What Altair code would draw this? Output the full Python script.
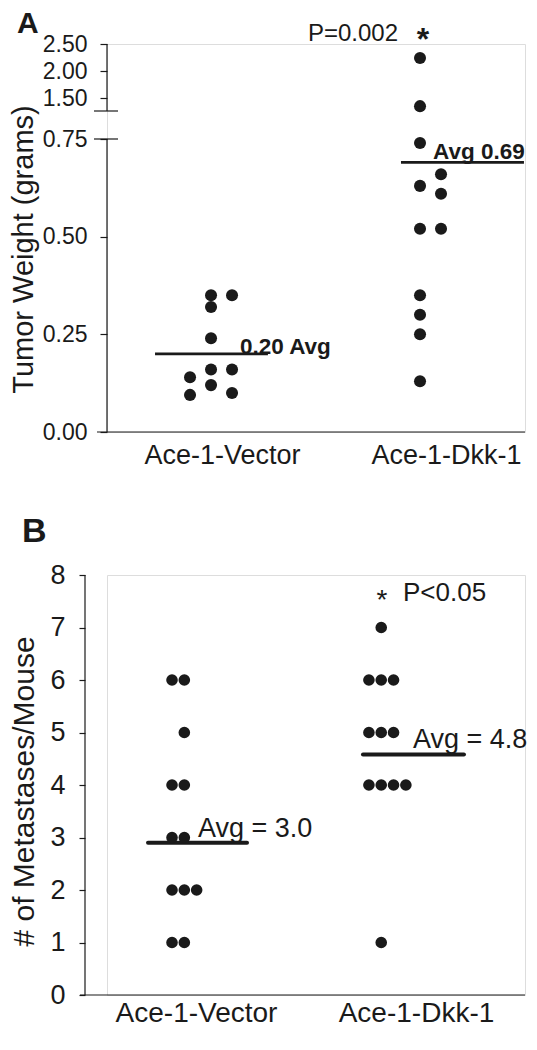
import altair as alt
import pandas as pd

# ---------------- data ----------------
groups = ["Ace-1-Vector", "Ace-1-Dkk-1"]

# Panel A: tumor weight (grams); slot = column of the dot inside its group
a_vector_vals = [0.35, 0.35, 0.32, 0.24, 0.16, 0.16, 0.14, 0.12, 0.095, 0.10]
a_vector_slot = [0, 1, 0, 0, 0, 1, -1, 0, -1, 1]
a_dkk_vals = [2.24, 1.35, 0.74, 0.66, 0.63, 0.61, 0.52, 0.52, 0.35, 0.30, 0.25, 0.13]
a_dkk_slot = [0, 0, 0, 1, 0, 1, 0, 1, 0, 0, 0, 0]
a_avg = [0.20, 0.69]
a_avg_text = ["0.20 Avg", "Avg 0.69"]
a_ticks = [0, 0.25, 0.5, 0.75, 1.5, 2.0, 2.5]
a_segments = [(0, 0.75), (1.26, 2.5)]  # broken axis pieces
a_pvalue = "P=0.002"

# Panel B: metastases per mouse
b_vector_vals = [6, 6, 5, 4, 4, 3, 3, 2, 2, 2, 1, 1]
b_vector_slot = [0, 1, 1, 0, 1, 0, 1, 0, 1, 2, 0, 1]
b_dkk_vals = [7, 6, 6, 6, 5, 5, 5, 4, 4, 4, 4, 1]
b_dkk_slot = [1, 0, 1, 2, 0, 1, 2, 0, 1, 2, 3, 1]
b_avg = [2.9, 4.58]
b_avg_text = ["Avg = 3.0", "Avg = 4.8"]
b_ticks = [0, 1, 2, 3, 4, 5, 6, 7, 8]
b_pvalue = "P<0.05"

# ---------------- style / layout ----------------
INK = "#1a1a1a"
FONT = "Liberation Sans"
W = 418
A_H = 388
B_H = 420
label_expr = f"datum.value == 1 ? '{groups[0]}' : '{groups[1]}'"

A_STYLE = dict(xdom=[0.4866, 0.4866 + W / 224], base=[-0.049, -0.116], step=0.09375,
               line=[(-0.299, 0.205), (-0.201, 0.348)], toff=[0.080, -0.058], tdy=[0, -3])
B_STYLE = dict(xdom=[0.5955, 0.5955 + W / 220], base=[-0.109, -0.214], step=0.056,
               line=[(-0.218, 0.232), (-0.241, 0.218)], toff=[0.009, -0.014], tdy=[-6, -7])


def points_df(vals_list, slots_list, st):
    rows = []
    for gi, (vals, slots) in enumerate(zip(vals_list, slots_list)):
        for v, s in zip(vals, slots):
            rows.append({"x": gi + 1 + st["base"][gi] + s * st["step"], "y": v, "group": groups[gi]})
    return pd.DataFrame(rows)


def avg_df(avgs, texts, st):
    rows = []
    for gi, (a, t) in enumerate(zip(avgs, texts)):
        rows.append({"x": gi + 1 + st["line"][gi][0], "x2": gi + 1 + st["line"][gi][1],
                     "tx": gi + 1 + st["toff"][gi], "y": a, "label": t, "dy": st["tdy"][gi]})
    return pd.DataFrame(rows)


# ================= Panel A =================
a_yscale = alt.Scale(domain=[0, 0.75, 1.26, 2.5], range=[A_H, 95, 67, 0], nice=False, zero=False)
a_xscale = alt.Scale(domain=A_STYLE["xdom"], nice=False, zero=False)

a_pts = points_df([a_vector_vals, a_dkk_vals], [a_vector_slot, a_dkk_slot], A_STYLE)
a_avgs = avg_df(a_avg, a_avg_text, A_STYLE)

a_points = alt.Chart(a_pts).mark_circle(size=145, color=INK, opacity=1).encode(
    x=alt.X("x:Q", scale=a_xscale,
            axis=alt.Axis(values=[1, 2], labelExpr=label_expr, domain=False, ticks=False,
                          grid=False, labelFontSize=27, labelPadding=10, labelColor=INK, title=None)),
    y=alt.Y("y:Q", scale=a_yscale,
            axis=alt.Axis(values=a_ticks, format=".2f", domain=False, grid=False,
                          tickSize=7, tickColor=INK, tickWidth=1.2,
                          labelFontSize=23, labelPadding=13, labelColor=INK,
                          title="Tumor Weight (grams)", titleFontSize=29, titleFontWeight="normal",
                          titleColor=INK, titleAngle=270, titleAlign="center", titleBaseline="middle",
                          titleX=-84, titleY=205)),
)

a_seg = alt.Chart(pd.DataFrame({"y0": [s[0] for s in a_segments], "y1": [s[1] for s in a_segments]})).mark_rule(
    color=INK, strokeWidth=1.2).encode(x=alt.value(0), y=alt.Y("y0:Q", scale=a_yscale), y2="y1:Q")

a_breaks = alt.Chart(pd.DataFrame({"y": [0.75, 1.26]})).mark_rule(color=INK, strokeWidth=1.2).encode(
    x=alt.value(-13), x2=alt.value(11), y=alt.Y("y:Q", scale=a_yscale))

a_xline = alt.Chart(pd.DataFrame({"k": [0]})).mark_rule(color=INK, strokeWidth=1.2).encode(
    x=alt.value(-10), x2=alt.value(W), y=alt.value(A_H))

a_avg_rule = alt.Chart(a_avgs).mark_rule(color=INK, strokeWidth=2.7).encode(
    x=alt.X("x:Q", scale=a_xscale), x2="x2:Q", y=alt.Y("y:Q", scale=a_yscale))

a_avg_text_0 = alt.Chart(a_avgs.iloc[[0]]).mark_text(
    align="left", baseline="alphabetic", fontSize=22.5, fontWeight="bold", color=INK, dy=0).encode(
    x=alt.X("tx:Q", scale=a_xscale), y=alt.Y("y:Q", scale=a_yscale), text="label:N")
a_avg_text_1 = alt.Chart(a_avgs.iloc[[1]]).mark_text(
    align="left", baseline="alphabetic", fontSize=22.5, fontWeight="bold", color=INK, dy=-3).encode(
    x=alt.X("tx:Q", scale=a_xscale), y=alt.Y("y:Q", scale=a_yscale), text="label:N")

a_p = alt.Chart(pd.DataFrame({"x": [2 - 0.214], "y": [2.5], "t": [a_pvalue]})).mark_text(
    align="right", baseline="alphabetic", fontSize=24, color=INK, dy=-3).encode(
    x=alt.X("x:Q", scale=a_xscale), y=alt.Y("y:Q", scale=a_yscale), text="t:N")
a_star = alt.Chart(pd.DataFrame({"x": [2 - 0.103], "y": [2.5], "t": ["*"]})).mark_text(
    align="center", baseline="alphabetic", fontSize=32, fontWeight="bold", color=INK, dy=6).encode(
    x=alt.X("x:Q", scale=a_xscale), y=alt.Y("y:Q", scale=a_yscale), text="t:N")

a_letter = alt.Chart(pd.DataFrame({"t": ["A"]})).mark_text(
    align="left", baseline="top", fontSize=30, fontWeight="bold", color=INK).encode(
    x=alt.value(-90), y=alt.value(-35), text="t:N")

chart_a = alt.layer(a_seg, a_breaks, a_xline, a_avg_rule, a_points, a_avg_text_0, a_avg_text_1,
                    a_p, a_star, a_letter).properties(width=W, height=A_H)

# ================= Panel B =================
b_yscale = alt.Scale(domain=[0, 8], nice=False, zero=False)
b_xscale = alt.Scale(domain=B_STYLE["xdom"], nice=False, zero=False)

b_pts = points_df([b_vector_vals, b_dkk_vals], [b_vector_slot, b_dkk_slot], B_STYLE)
b_avgs = avg_df(b_avg, b_avg_text, B_STYLE)

b_points = alt.Chart(b_pts).mark_circle(size=135, color=INK, opacity=1).encode(
    x=alt.X("x:Q", scale=b_xscale,
            axis=alt.Axis(values=[1, 2], labelExpr=label_expr, domain=False, ticks=False,
                          grid=False, labelFontSize=28, labelPadding=4, labelColor=INK, title=None)),
    y=alt.Y("y:Q", scale=b_yscale,
            axis=alt.Axis(values=b_ticks, format="d", domain=False,
                          grid=False, offset=22,
                          tickSize=6, tickColor=INK, tickWidth=1.2,
                          labelFontSize=27, labelPadding=14, labelColor=INK,
                          title="# of Metastases/Mouse", titleFontSize=30, titleFontWeight="normal",
                          titleColor=INK, titleAngle=270, titleAlign="center", titleBaseline="middle",
                          titleX=-61, titleY=216)),
)

b_yline = alt.Chart(pd.DataFrame({"y0": [0], "y1": [8]})).mark_rule(color=INK, strokeWidth=1.2).encode(
    x=alt.value(-22), y=alt.Y("y0:Q", scale=b_yscale), y2="y1:Q")

b_xline = alt.Chart(pd.DataFrame({"k": [0]})).mark_rule(color=INK, strokeWidth=1.2).encode(
    x=alt.value(-27), x2=alt.value(W), y=alt.value(B_H))

b_avg_rule = alt.Chart(b_avgs).mark_rule(color=INK, strokeWidth=4, strokeCap="round").encode(
    x=alt.X("x:Q", scale=b_xscale), x2="x2:Q", y=alt.Y("y:Q", scale=b_yscale))

b_avg_text_0 = alt.Chart(b_avgs.iloc[[0]]).mark_text(
    align="left", baseline="alphabetic", fontSize=27, color=INK, dy=-6).encode(
    x=alt.X("tx:Q", scale=b_xscale), y=alt.Y("y:Q", scale=b_yscale), text="label:N")
b_avg_text_1 = alt.Chart(b_avgs.iloc[[1]]).mark_text(
    align="left", baseline="alphabetic", fontSize=27, color=INK, dy=-7).encode(
    x=alt.X("tx:Q", scale=b_xscale), y=alt.Y("y:Q", scale=b_yscale), text="label:N")

b_p = alt.Chart(pd.DataFrame({"x": [2 - 0.059], "y": [8], "t": [b_pvalue]})).mark_text(
    align="left", baseline="alphabetic", fontSize=26, color=INK, dy=26).encode(
    x=alt.X("x:Q", scale=b_xscale), y=alt.Y("y:Q", scale=b_yscale), text="t:N")
b_star = alt.Chart(pd.DataFrame({"x": [2 - 0.155], "y": [8], "t": ["*"]})).mark_text(
    align="center", baseline="alphabetic", fontSize=28, color=INK, dy=34).encode(
    x=alt.X("x:Q", scale=b_xscale), y=alt.Y("y:Q", scale=b_yscale), text="t:N")

b_letter = alt.Chart(pd.DataFrame({"t": ["B"]})).mark_text(
    align="left", baseline="top", fontSize=34, fontWeight="bold", color=INK).encode(
    x=alt.value(-85), y=alt.value(-60), text="t:N")

chart_b = alt.layer(b_yline, b_xline, b_avg_rule, b_points, b_avg_text_0, b_avg_text_1,
                    b_p, b_star, b_letter).properties(width=W, height=B_H)

chart = alt.vconcat(chart_a, chart_b, spacing=45).properties(
    padding={"left": 0, "top": 0, "right": 0, "bottom": 0}, background="white"
).configure_view(stroke=None).configure(font=FONT).configure_axis(labelFont=FONT, titleFont=FONT)

chart.save("out.html", embed_options={"renderer": "svg", "actions": False})
